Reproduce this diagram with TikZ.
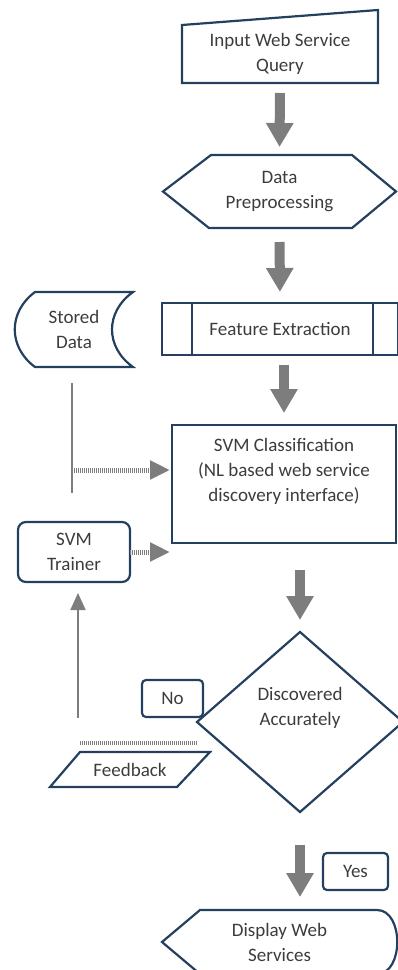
\documentclass[tikz,border=0pt]{standalone}
\usepackage{fontspec}
\setmainfont{Carlito}
\usepackage{tikz}
\usetikzlibrary{calc,positioning,arrows.meta,shapes.geometric}
\definecolor{boxblue}{RGB}{36,64,95}
\definecolor{txtgray}{RGB}{60,60,60}
\definecolor{arrgray}{RGB}{125,125,125}
\tikzstyle{txt}=[font=\fontsize{19}{25}\selectfont,text=txtgray,align=center,inner sep=0pt,outer sep=0pt]
\tikzstyle{outline}=[draw=boxblue,line width=2.2pt,line join=miter]
\tikzstyle{box}=[txt,rectangle,outline]
\tikzstyle{bigarrow}=[draw=arrgray,line width=10pt,-{Triangle[width=26pt,length=24pt]}]
\tikzstyle{hatcharrow}=[draw=arrgray,line width=5pt,dash pattern=on 1.2pt off 0.8pt,-{Triangle[width=18pt,length=20pt]}]
\tikzstyle{hatchline}=[draw=arrgray,line width=4pt,dash pattern=on 1.2pt off 0.8pt]
\tikzstyle{thinline}=[draw=arrgray,line width=1.8pt]

\begin{document}
\begin{tikzpicture}[x=1pt,y=-1pt]
\useasboundingbox (0,0) rectangle (397,970);
% main column
\node[txt,minimum width=196pt,minimum height=58pt] (query) at (280,54) {Input Web Service\\Query};
\draw[outline] (query.north west) -- ($(query.north east)+(0,15pt)$) -- (query.south east) -- (query.south west) -- cycle;
\node[txt,minimum width=233pt,minimum height=73pt] (prep) at (279.5,191.5) {Data\\Preprocessing};
\draw[outline] (prep.west) -- ($(prep.north west)+(48pt,0)$) -- ($(prep.north east)+(-44pt,0)$) -- (prep.east)
  -- ($(prep.south east)+(-44pt,0)$) -- ($(prep.south west)+(46pt,0)$) -- cycle;
\node[box,minimum width=236pt,minimum height=52pt] (feat) at (280,329) {Feature Extraction};
\draw[outline] ($(feat.north west)+(30pt,0)$) -- ($(feat.south west)+(30pt,0)$);
\draw[outline] ($(feat.north east)+(-25pt,0)$) -- ($(feat.south east)+(-25pt,0)$);
\node[box,minimum width=224pt,minimum height=118pt] (svm) at (284,484) {SVM Classification\\(NL based web service\\discovery interface)\\[4pt]};
\node[box,diamond,minimum width=206pt,minimum height=180pt] (dia) at (300,722) {Discovered\\Accurately\\[7pt]};
\node[box,rounded corners=4pt,minimum width=65pt,minimum height=37pt] (yes) at (355.5,871.5) {Yes};
\node[txt,minimum width=235pt,minimum height=64pt] (disp) at (279.5,942) {Display Web\\Services};
\draw[outline] (disp.west) -- ($(disp.north west)+(38pt,0)$) -- ($(disp.north east)+(-20pt,0)$)
  .. controls ($(disp.north east)+(7pt,0)$) and ($(disp.south east)+(7pt,0)$) .. ($(disp.south east)+(-20pt,0)$)
  -- ($(disp.south west)+(38pt,0)$) -- cycle;
% left column
\node[txt,minimum width=118pt,minimum height=75pt] (stored) at (74,329.5) {Stored\\Data};
\draw[outline] ($(stored.north west)+(20pt,0)$) -- (stored.north east)
  .. controls ($(stored.north east)+(-28pt,-20pt)$) and ($(stored.south east)+(-28pt,20pt)$) .. (stored.south east)
  -- ($(stored.south west)+(20pt,0)$)
  .. controls ($(stored.south west)+(-7pt,20pt)$) and ($(stored.north west)+(-7pt,-20pt)$) .. ($(stored.north west)+(20pt,0)$) -- cycle;
\node[box,rounded corners=8pt,minimum width=112pt,minimum height=60pt] (trainer) at (74,552) {SVM\\Trainer};
\node[box,rounded corners=4pt,minimum width=61pt,minimum height=37pt] (no) at (172.5,698.5) {No};
\node[txt,minimum width=160pt,minimum height=35pt] (fb) at (130,769.5) {Feedback};
\draw[outline] (fb.south west) -- ($(fb.north west)+(30pt,0)$) -- (fb.north east) -- ($(fb.south east)+(-33pt,0)$) -- cycle;
\coordinate (tap) at (72,470);
\coordinate (trunk) at (72,493);
\coordinate (trainend) at (170,552);
\coordinate (fbtop) at (78,718);
\coordinate (fbl) at (80,743);
\coordinate (fbr) at (197,743);
% arrows
\draw[bigarrow,shorten <=10pt,shorten >=8pt] (query.south) -- (prep.north);
\draw[bigarrow,shorten <=14pt,shorten >=11pt] (prep.south) -- (feat.north);
\draw[bigarrow,shorten <=10pt,shorten >=12pt] (svm.north |- feat.south) -- (svm.north);
\draw[bigarrow,shorten <=27pt,shorten >=12pt] (dia.north |- svm.south) -- (dia.north);
\draw[bigarrow,shorten <=33pt,shorten >=13pt] (dia.south) -- (dia.south |- disp.north);
\draw[thinline,shorten <=16pt] (trunk |- stored.south) -- (trunk);
\draw[hatcharrow,shorten >=2pt] (tap) -- (tap -| svm.west);
\draw[hatcharrow] (trainer.east) -- (trainend);
\draw[thinline,-{Triangle[width=15pt,length=17pt]},shorten >=11pt] (fbtop) -- (fbtop |- trainer.south);
\draw[hatchline] (fbl) -- (fbr);
\end{tikzpicture}
\end{document}
